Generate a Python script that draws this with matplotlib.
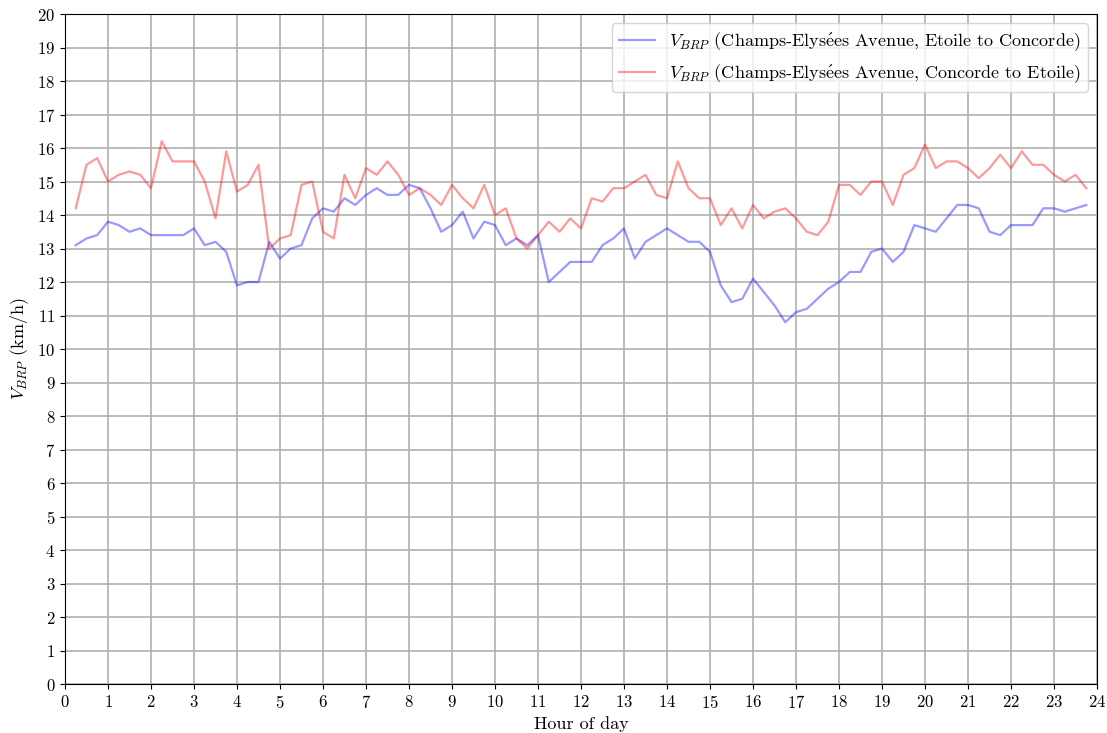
import matplotlib
matplotlib.use('Agg')
import matplotlib.pyplot as plt
import numpy as np

plt.rcParams['font.family'] = ['cmr10', 'DejaVu Serif']
plt.rcParams['mathtext.fontset'] = 'cm'
plt.rcParams['axes.formatter.use_mathtext'] = True
plt.rcParams['font.size'] = 13

# quarter-hour samples from 0.25 to 23.75
hours = np.arange(1, 96) * 0.25

etoile_to_concorde = [
    13.1, 13.3, 13.4, 13.8, 13.7, 13.5, 13.6, 13.4, 13.4, 13.4, 13.4, 13.6,
    13.1, 13.2, 12.9, 11.9, 12.0, 12.0, 13.2, 12.7, 13.0, 13.1, 13.9, 14.2,
    14.1, 14.5, 14.3, 14.6, 14.8, 14.6, 14.6, 14.9, 14.8, 14.2, 13.5, 13.7,
    14.1, 13.3, 13.8, 13.7, 13.1, 13.3, 13.1, 13.4, 12.0, 12.3, 12.6, 12.6,
    12.6, 13.1, 13.3, 13.6, 12.7, 13.2, 13.4, 13.6, 13.4, 13.2, 13.2, 12.9,
    11.9, 11.4, 11.5, 12.1, 11.7, 11.3, 10.8, 11.1, 11.2, 11.5, 11.8, 12.0,
    12.3, 12.3, 12.9, 13.0, 12.6, 12.9, 13.7, 13.6, 13.5, 13.9, 14.3, 14.3,
    14.2, 13.5, 13.4, 13.7, 13.7, 13.7, 14.2, 14.2, 14.1, 14.2, 14.3,
]

concorde_to_etoile = [
    14.2, 15.5, 15.7, 15.0, 15.2, 15.3, 15.2, 14.8, 16.2, 15.6, 15.6, 15.6,
    15.0, 13.9, 15.9, 14.7, 14.9, 15.5, 13.0, 13.3, 13.4, 14.9, 15.0, 13.5,
    13.3, 15.2, 14.5, 15.4, 15.2, 15.6, 15.2, 14.6, 14.8, 14.6, 14.3, 14.9,
    14.5, 14.2, 14.9, 14.0, 14.2, 13.3, 13.0, 13.4, 13.8, 13.5, 13.9, 13.6,
    14.5, 14.4, 14.8, 14.8, 15.0, 15.2, 14.6, 14.5, 15.6, 14.8, 14.5, 14.5,
    13.7, 14.2, 13.6, 14.3, 13.9, 14.1, 14.2, 13.9, 13.5, 13.4, 13.8, 14.9,
    14.9, 14.6, 15.0, 15.0, 14.3, 15.2, 15.4, 16.1, 15.4, 15.6, 15.6, 15.4,
    15.1, 15.4, 15.8, 15.4, 15.9, 15.5, 15.5, 15.2, 15.0, 15.2, 14.8,
]

# cmr10 has no precomposed é, so build it with a mathtext accent
elysees = r'Elys$\mathrm{\acute{e}}$es'

fig = plt.figure(figsize=(11.07, 7.33), dpi=100)
ax = fig.add_axes([0.0587, 0.0668, 0.9323, 0.9141])

ax.plot(hours, etoile_to_concorde, color='b', alpha=0.4, lw=1.6,
        label=r'$V_{BRP}$ (Champs-' + elysees + ' Avenue, Etoile to Concorde)')
ax.plot(hours, concorde_to_etoile, color='r', alpha=0.4, lw=1.6,
        label=r'$V_{BRP}$ (Champs-' + elysees + ' Avenue, Concorde to Etoile)')

ax.set_xlim(0, 24)
ax.set_ylim(0, 20)
ax.set_xticks(np.arange(0, 25, 1))
ax.set_yticks(np.arange(0, 21, 1))
ax.tick_params(labelsize=12)
ax.grid(True, color='#b0b0b0', lw=1.2)
ax.set_axisbelow(True)
ax.set_xlabel('Hour of day')
ax.set_ylabel(r'$V_{BRP}$ (km/h)')
ax.legend(loc='upper right')

fig.savefig('out.png', dpi=100)
